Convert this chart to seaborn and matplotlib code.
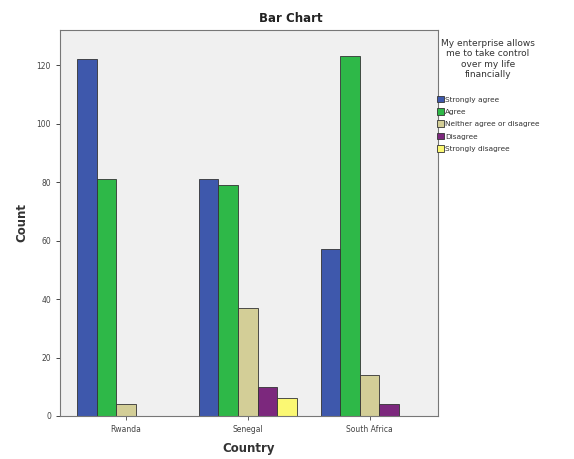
import matplotlib
matplotlib.use("Agg")
import matplotlib.pyplot as plt
import seaborn as sns
import pandas as pd

countries = ["Rwanda", "Senegal", "South Africa"]
responses = ["Strongly agree", "Agree", "Neither agree or disagree", "Disagree", "Strongly disagree"]
strongly_agree = [122, 81, 57]
agree = [81, 79, 123]
neither = [4, 37, 14]
disagree = [0, 10, 4]
strongly_disagree = [0, 6, 0]
colors = ["#3E58AC", "#2EB848", "#D3CE97", "#7C287D", "#FBF873"]
yticks = [0, 20, 40, 60, 80, 100, 120]

rows = []
for series, resp in zip([strongly_agree, agree, neither, disagree, strongly_disagree], responses):
    for c, v in zip(countries, series):
        rows.append({"Country": c, "Response": resp, "Count": v})
df = pd.DataFrame(rows)

sns.set_theme(style="white")
plt.rcParams['font.family'] = ['DejaVu Sans']

fig = plt.figure(figsize=(5.74, 4.59), dpi=100)
ax = fig.add_axes([0.1045, 0.0937, 0.6585, 0.841])
ax.set_facecolor("#F0F0F0")

sns.barplot(data=df, x="Country", y="Count", hue="Response", hue_order=responses,
            order=countries, palette=colors, saturation=1, width=0.8, edgecolor="#333333",
            linewidth=0.6, ax=ax, legend=True)

ax.set_xlim(-0.54, 2.56)
ax.set_ylim(0, 132)
ax.set_yticks(yticks)
ax.set_yticklabels([str(t) for t in yticks], fontsize=5.5, color="#444444")
ax.tick_params(axis="x", labelsize=5.5, colors="#444444", length=3, width=0.6, direction="out", bottom=True)
ax.tick_params(axis="y", length=3, width=0.6, direction="out", left=True)
for s in ax.spines.values():
    s.set_color("#777777")
    s.set_linewidth(0.8)

ax.set_xlabel("Country", fontsize=8.5, fontweight="bold", color="#333333", labelpad=6)
ax.set_ylabel("Count", fontsize=8.5, fontweight="bold", color="#333333", labelpad=6)
fig.text(0.507, 0.96, "Bar Chart", ha="center", va="center", fontsize=8.5, fontweight="bold", color="#222222")

handles, labels = ax.get_legend_handles_labels()
ax.legend_.remove()
leg = fig.legend(handles, labels, title="My enterprise allows\nme to take control\nover my life\nfinancially",
                 loc="upper left", bbox_to_anchor=(0.757, 0.92), frameon=False,
                 fontsize=5.3, title_fontsize=6.5, handlelength=1.0, handleheight=1.0,
                 handletextpad=0.1, labelspacing=0.75, borderpad=0.3, borderaxespad=0)
leg.get_title().set_multialignment("center")
leg.get_title().set_color("#333333")
leg._legend_box.sep = 12
for t in leg.get_texts():
    t.set_color("#333333")

fig.savefig("out.png", dpi=100, facecolor="white")
